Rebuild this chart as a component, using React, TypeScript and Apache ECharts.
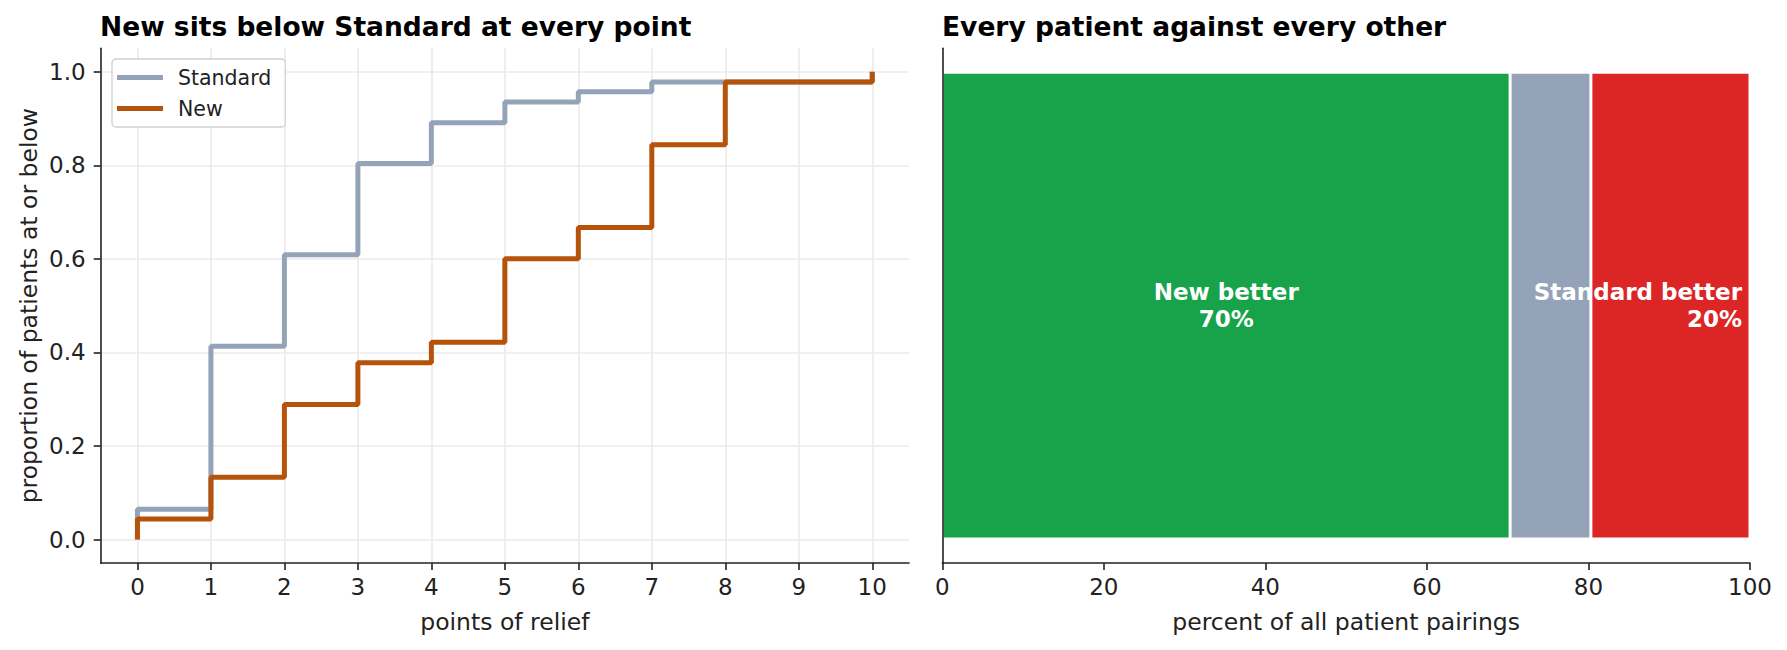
import { useEffect, useRef } from 'react';
import * as echarts from 'echarts';

// left panel: cumulative share of patients at or below each relief score
const reliefPoints = [0, 1, 2, 3, 4, 5, 6, 7, 8, 9, 10];
const standardCdf = [0.065, 0.413, 0.609, 0.804, 0.891, 0.935, 0.957, 0.978, 0.978, 0.978, 1.0];
const newCdf = [0.044, 0.133, 0.289, 0.378, 0.422, 0.6, 0.667, 0.844, 0.978, 0.978, 1.0];
const proportionTicks = [0, 0.2, 0.4, 0.6, 0.8, 1.0];

// right panel: outcome of every patient pairing
const outcomeNames = ['New better', 'Tie', 'Standard better'];
const outcomeShares = [70.3, 10.0, 19.7];
const outcomeColors = ['#18a34a', '#94a3b8', '#dc2626'];

const FONT = 'DejaVu Sans';
const INK = '#222';
const STD_COLOR = '#94a3b8';
const NEW_COLOR = '#b45309';

const toSteps = (cdf: number[]) => [[reliefPoints[0], 0], ...reliefPoints.map((x, i) => [x, cdf[i]])];

export default function App() {
  const chartRef = useRef<HTMLDivElement>(null);

  useEffect(() => {
    if (!chartRef.current) return;
    const chart = echarts.init(chartRef.current, undefined, { renderer: 'svg' });

    const axisLine = { show: true, onZero: false, lineStyle: { color: INK, width: 1.6 } };
    const axisTick = { show: true, length: 7, lineStyle: { color: INK, width: 1.6 } };
    const tickLabel = { color: INK, fontSize: 23, fontFamily: FONT };
    const grid = { show: true, lineStyle: { color: '#ebebeb', width: 1.7 } };
    const nameStyle = { color: INK, fontSize: 23.5, fontFamily: FONT };
    const titleStyle = { fontSize: 26.5, fontWeight: 'bold' as const, fontFamily: FONT, color: '#000' };

    const option: echarts.EChartsOption = {
      animation: false,
      backgroundColor: '#fff',
      title: [
        { text: 'New sits below Standard at every point', left: 100, top: 13, padding: 0, textStyle: titleStyle },
        { text: 'Every patient against every other', left: 942, top: 13, padding: 0, textStyle: titleStyle },
      ],
      legend: {
        data: ['Standard', 'New'],
        orient: 'vertical',
        left: 112,
        top: 59,
        icon: 'rect',
        itemWidth: 46,
        itemHeight: 5,
        itemGap: 10,
        padding: [8, 14, 8, 5],
        backgroundColor: '#fff',
        borderColor: '#d0d0d0',
        borderWidth: 1.3,
        borderRadius: 4,
        textStyle: { fontSize: 20.5, fontFamily: FONT, color: INK, padding: [0, 0, 0, 10] },
      },
      grid: [
        { left: 100.7, top: 48.3, width: 808.3, height: 514.7 },
        { left: 942.3, top: 48.3, width: 807.7, height: 514.7 },
      ],
      xAxis: [
        {
          type: 'value',
          gridIndex: 0,
          min: -0.5,
          max: 10.5,
          name: 'points of relief',
          nameLocation: 'middle',
          nameGap: 47,
          nameTextStyle: nameStyle,
          axisLine,
          axisTick: { ...axisTick, customValues: reliefPoints },
          axisLabel: { ...tickLabel, margin: 12, customValues: reliefPoints },
          splitLine: grid,
        },
        {
          type: 'value',
          gridIndex: 1,
          min: 0,
          max: 100,
          interval: 20,
          name: 'percent of all patient pairings',
          nameLocation: 'middle',
          nameGap: 47,
          nameTextStyle: nameStyle,
          axisLine,
          axisTick,
          axisLabel: { ...tickLabel, margin: 12 },
          splitLine: { show: false },
        },
      ],
      yAxis: [
        {
          type: 'value',
          gridIndex: 0,
          min: -0.05,
          max: 1.05,
          name: 'proportion of patients at or below',
          nameLocation: 'middle',
          nameGap: 60,
          nameTextStyle: nameStyle,
          axisLine,
          axisTick: { ...axisTick, customValues: proportionTicks },
          axisLabel: {
            ...tickLabel,
            margin: 15,
            customValues: proportionTicks,
            formatter: (v: number) => v.toFixed(1),
          },
          splitLine: grid,
        },
        {
          type: 'category',
          gridIndex: 1,
          z: 5,
          data: ['pairings'],
          axisLine,
          axisTick: { show: false },
          axisLabel: { show: false },
          splitLine: { show: false },
        },
      ],
      series: [
        {
          name: 'Standard',
          type: 'line',
          xAxisIndex: 0,
          yAxisIndex: 0,
          step: 'end',
          symbol: 'none',
          color: STD_COLOR,
          lineStyle: { width: 5, color: STD_COLOR },
          data: toSteps(standardCdf),
        },
        {
          name: 'New',
          type: 'line',
          xAxisIndex: 0,
          yAxisIndex: 0,
          step: 'end',
          symbol: 'none',
          color: NEW_COLOR,
          lineStyle: { width: 5, color: NEW_COLOR },
          data: toSteps(newCdf),
        },
        ...outcomeNames.map((name, i) => ({
          name,
          type: 'bar' as const,
          xAxisIndex: 1,
          yAxisIndex: 1,
          stack: 'pairs',
          barWidth: '90.7%',
          itemStyle: { color: outcomeColors[i], borderColor: '#fff', borderWidth: 1.5 },
          label: {
            show: i !== 1,
            position: i === 2 ? ('insideRight' as const) : ('inside' as const),
            distance: 8,
            align: i === 2 ? 'right' : 'center',
            color: '#fff',
            fontSize: 23,
            fontWeight: 'bold' as const,
            fontFamily: FONT,
            lineHeight: 27.5,
            formatter: () => `${name}\n${Math.round(outcomeShares[i])}%`,
          },
          data: [outcomeShares[i]],
        })),
      ],
    };

    chart.setOption(option);
    return () => chart.dispose();
  }, []);

  return (
    <div
      ref={chartRef}
      style={{ position: 'fixed', left: 0, top: 0, width: '1787px', height: '650px' }}
    />
  );
}
